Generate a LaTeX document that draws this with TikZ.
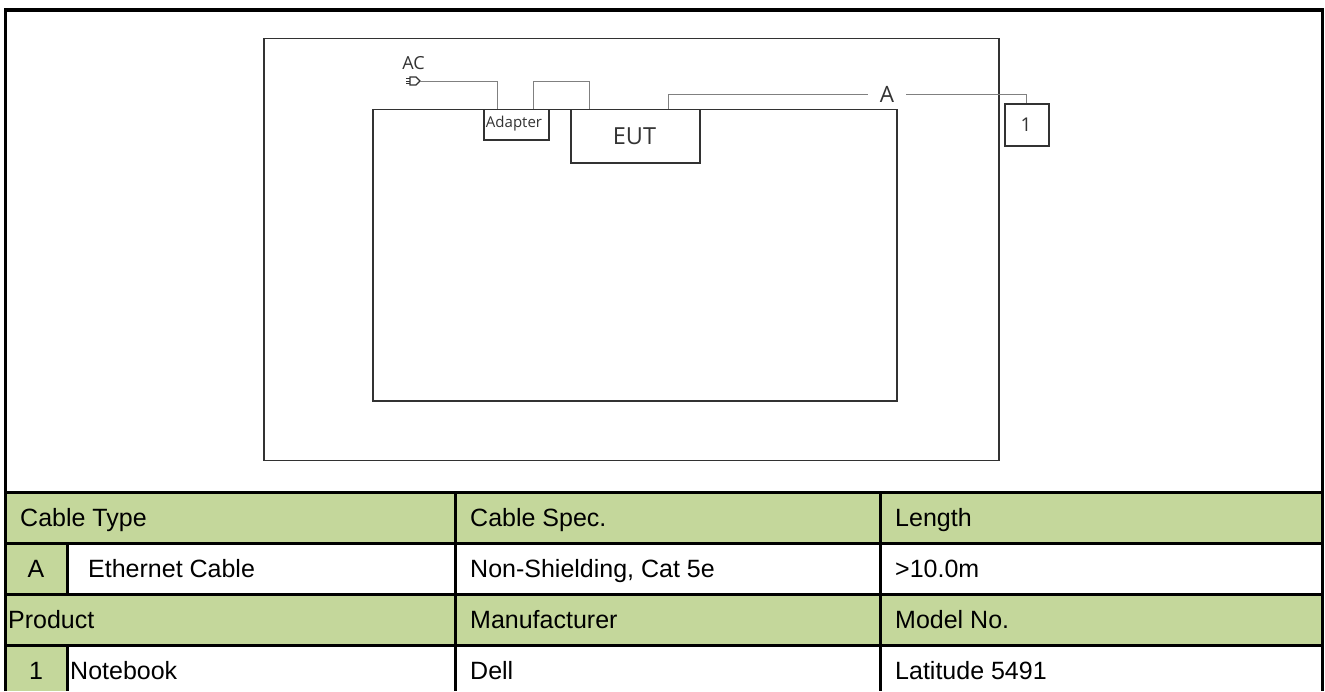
\documentclass[tikz,border=0pt]{standalone}
\usepackage{fontspec}
\setmainfont{Liberation Sans}
\newfontfamily\diagfont{Open Sans}
\definecolor{hdr}{RGB}{196,215,155}
\definecolor{frm}{RGB}{50,50,50}
\definecolor{wirec}{RGB}{128,128,128}
\begin{document}
\begin{tikzpicture}[x=1pt,y=-1pt,
  dbox/.style={draw=frm,line width=1.5pt,fill=white,inner sep=0pt,anchor=north west},
  wire/.style={draw=wirec,line width=1pt},
  tline/.style={draw=black,line width=3pt},
  ttext/.style={anchor=base west,inner sep=0pt,font=\fontsize{25}{29}\selectfont},
  dtext/.style={inner sep=0pt,text=black!80,font=\diagfont}]
\useasboundingbox (0,0) rectangle (1325,691);
% table fills
\fill[hdr] (5.5,492) rectangle (1322.5,543);
\fill[hdr] (5.5,543) rectangle (67,594);
\fill[hdr] (5.5,594) rectangle (1322.5,645);
\fill[hdr] (5.5,645) rectangle (67,691);
% diagram
\node[dbox,minimum width=735pt,minimum height=422pt] (room) at (263,37.5) {};
\node[dbox,minimum width=524pt,minimum height=291.5pt] (desk) at (372,108.5) {};
\node[dbox,minimum width=65pt,minimum height=30.5pt] (adapter) at (483,108.5) {};
\node[dtext,font=\diagfont\fontsize{15}{17}\selectfont] (adlbl) at (514,124) {Adapter};
\node[dbox,minimum width=129pt,minimum height=53.5pt] (eut) at (570,108.5) {};
\node[dtext,font=\diagfont\fontsize{23.5}{26}\selectfont] (eutlbl) at (634.5,136) {EUT};
\node[dbox,minimum width=44pt,minimum height=42pt] (nb) at (1004,103) {};
\node[dtext,font=\diagfont\fontsize{19}{22}\selectfont] (nblbl) at (1026,125) {1};
\node[dtext,font=\diagfont\fontsize{18}{20}\selectfont] (ac) at (413.5,63) {AC};
\node[dtext,font=\diagfont\fontsize{22.5}{25}\selectfont,inner xsep=12pt] (A) at (887,94) {A};
% plug
\coordinate (plug) at (420,81);
\draw[frm,line width=1.2pt,fill=white] (410,77) -- (416,77) -- (420,81) -- (416,85) -- (410,85) -- cycle;
\draw[frm,line width=0.9pt] (406,78.5) -- (410,78.5) (406,81) -- (410,81) (406,83.5) -- (410,83.5);
% wires
\draw[wire] (plug) -| ([xshift=-18.5pt]adapter.north);
\draw[wire] ([xshift=17.5pt]adapter.north) |- ([xshift=-45.5pt,yshift=27.5pt]eut.north) -- ([xshift=-45.5pt]eut.north);
\draw[wire] ([xshift=33.5pt]eut.north) |- (A.west);
\draw[wire] (A.east) -| (nb.north);
% outer frame
\draw[black,line width=3.5pt] (5.5,691) -- (5.5,10) -- (1322.5,10) -- (1322.5,691);
% table lines
\draw[tline] (5.5,492) -- (1322.5,492);
\draw[tline] (5.5,543) -- (1322.5,543);
\draw[tline] (5.5,594) -- (1322.5,594);
\draw[tline] (5.5,645) -- (1322.5,645);
\draw[tline] (455,492) -- (455,691);
\draw[tline] (880,492) -- (880,691);
\draw[tline] (67,543) -- (67,594);
\draw[tline] (67,645) -- (67,691);
% table text
\node[ttext] (h1) at (20,526) {Cable Type};
\node[ttext] (h2) at (470,526) {Cable Spec.};
\node[ttext] (h3) at (895,526) {Length};
\node[ttext,anchor=base] (ca) at (36,577) {A};
\node[ttext] (c1) at (88,577) {Ethernet Cable};
\node[ttext] (c2) at (470,577) {Non-Shielding, Cat 5e};
\node[ttext] (c3) at (895,577) {>10.0m};
\node[ttext] (p1) at (8,628) {Product};
\node[ttext] (p2) at (470,628) {Manufacturer};
\node[ttext] (p3) at (895,628) {Model No.};
\node[ttext,anchor=base] (pn) at (36,679) {1};
\node[ttext] (q1) at (70,679) {Notebook};
\node[ttext] (q2) at (470,679) {Dell};
\node[ttext] (q3) at (895,679) {Latitude 5491};
\end{tikzpicture}
\end{document}
